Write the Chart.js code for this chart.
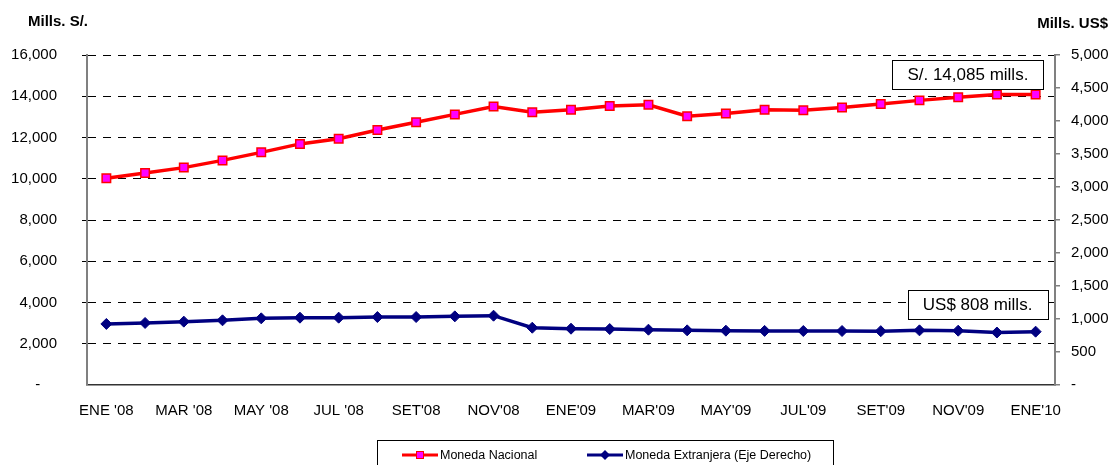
<!DOCTYPE html>
<html>
<head>
<meta charset="utf-8">
<script src="https://cdn.jsdelivr.net/npm/chart.js@4"></script>
<style>
  html, body { margin: 0; padding: 0; background: #fff; }
</style>
</head>
<body>
<canvas id="grafico" width="1113" height="465"></canvas>
<script>
// meses (ene 2008 - ene 2010)
const meses = [
  "ENE '08", "FEB '08", "MAR '08", "ABR '08", "MAY '08", "JUN '08", "JUL '08", "AGO '08",
  "SET'08", "OCT'08", "NOV'08", "DIC'08", "ENE'09", "FEB'09", "MAR'09", "ABR'09",
  "MAY'09", "JUN'09", "JUL'09", "AGO'09", "SET'09", "OCT'09", "NOV'09", "DIC'09", "ENE'10"
];

// millones de soles (eje izquierdo)
const monedaNacional = [
  10020, 10280, 10540, 10890, 11280, 11690, 11940, 12360,
  12740, 13120, 13500, 13220, 13350, 13530, 13590, 13030,
  13160, 13350, 13320, 13460, 13620, 13800, 13950, 14080, 14085
];

// millones de dolares (eje derecho)
const monedaExtranjera = [
  925, 940, 960, 980, 1010, 1020, 1020, 1030,
  1030, 1040, 1050, 868, 853, 848, 838, 828,
  823, 820, 818, 818, 816, 828, 823, 795, 808
];

const ticksIzq = [0, 2000, 4000, 6000, 8000, 10000, 12000, 14000, 16000];
const ticksDer = [0, 500, 1000, 1500, 2000, 2500, 3000, 3500, 4000, 4500, 5000];

const fuente = "'Liberation Sans', Arial, sans-serif";

function formato(v) {
  if (v === 0) return '-';
  return v.toLocaleString('en-US');
}

// textos extra: titulos de ejes, recuadros y leyenda
const extras = {
  id: 'extras',
  afterDraw(chart) {
    const ctx = chart.ctx;
    const x = chart.scales.x;
    ctx.save();

    ctx.fillStyle = '#000';
    ctx.font = 'bold 15px ' + fuente;
    ctx.textBaseline = 'middle';
    ctx.textAlign = 'left';
    ctx.fillText('Mills. S/.', 28, 22);
    ctx.textAlign = 'right';
    ctx.fillText('Mills. US$', 1108, 24);

    // recuadros con el ultimo dato
    const notas = [
      { texto: 'S/. ' + formato(monedaNacional[monedaNacional.length - 1]) + ' mills.', eje: 'y', i: 22.25, v: 15050 },
      { texto: 'US$ ' + formato(monedaExtranjera[monedaExtranjera.length - 1]) + ' mills.', eje: 'y1', i: 22.5, v: 1227 }
    ];
    ctx.font = '17px ' + fuente;
    ctx.textAlign = 'center';
    notas.forEach(n => {
      const cx = x.getPixelForValue(n.i);
      const cy = chart.scales[n.eje].getPixelForValue(n.v);
      const w = ctx.measureText(n.texto).width + 30;
      const h = 29;
      ctx.fillStyle = '#fff';
      ctx.fillRect(cx - w / 2, cy - h / 2, w, h);
      ctx.strokeStyle = '#000';
      ctx.lineWidth = 1;
      ctx.strokeRect(Math.round(cx - w / 2) + 0.5, Math.round(cy - h / 2) + 0.5, Math.round(w), h);
      ctx.fillStyle = '#000';
      ctx.fillText(n.texto, cx, cy + 1);
    });

    // leyenda
    ctx.strokeStyle = '#000';
    ctx.lineWidth = 1;
    ctx.strokeRect(377.5, 440.5, 456, 30);
    const items = [
      { ds: chart.data.datasets[0], x0: 402 },
      { ds: chart.data.datasets[1], x0: 587 }
    ];
    ctx.font = '12.5px ' + fuente;
    ctx.textAlign = 'left';
    items.forEach(it => {
      const ds = it.ds;
      const y = 455;
      ctx.strokeStyle = ds.borderColor;
      ctx.lineWidth = 3;
      ctx.beginPath();
      ctx.moveTo(it.x0, y);
      ctx.lineTo(it.x0 + 36, y);
      ctx.stroke();
      ctx.fillStyle = ds.pointBackgroundColor;
      ctx.strokeStyle = ds.pointBorderColor;
      ctx.lineWidth = 1;
      if (ds.pointStyle === 'rect') {
        ctx.fillRect(it.x0 + 14, y - 4, 8, 8);
        ctx.strokeRect(it.x0 + 14.5, y - 3.5, 7, 7);
      } else {
        ctx.beginPath();
        ctx.moveTo(it.x0 + 18, y - 5);
        ctx.lineTo(it.x0 + 23, y);
        ctx.lineTo(it.x0 + 18, y + 5);
        ctx.lineTo(it.x0 + 13, y);
        ctx.closePath();
        ctx.fill();
      }
      ctx.fillStyle = '#000';
      ctx.fillText(ds.label, it.x0 + 38, y + 1);
    });

    ctx.restore();
  }
};

const ctx = document.getElementById('grafico').getContext('2d');
const grafico = new Chart(ctx, {
  type: 'line',
  data: {
    labels: meses,
    datasets: [{
      label: 'Moneda Nacional',
      data: monedaNacional,
      yAxisID: 'y',
      borderColor: '#FF0000',
      borderWidth: 3.5,
      pointStyle: 'rect',
      pointRadius: 6,
      pointBackgroundColor: '#FF00FF',
      pointBorderColor: '#FF0000',
      pointBorderWidth: 1.5,
      tension: 0
    }, {
      label: 'Moneda Extranjera (Eje Derecho)',
      data: monedaExtranjera,
      yAxisID: 'y1',
      borderColor: '#000080',
      borderWidth: 3.5,
      pointStyle: 'rectRot',
      pointRadius: 5.5,
      pointBackgroundColor: '#000080',
      pointBorderColor: '#000080',
      pointBorderWidth: 1,
      tension: 0
    }]
  },
  options: {
    responsive: false,
    animation: false,
    devicePixelRatio: 1,
    layout: { padding: { left: 0, right: 0, top: 55, bottom: 45 } },
    plugins: {
      legend: { display: false },
      tooltip: { enabled: false }
    },
    scales: {
      x: {
        offset: true,
        grid: { display: false, drawTicks: false },
        border: { display: true, color: '#333', width: 1.5 },
        ticks: {
          autoSkip: false,
          maxRotation: 0,
          padding: 17,
          color: '#000',
          font: { family: fuente, size: 15 },
          callback: function(v, i) { return i % 2 === 0 ? meses[i] : ''; }
        },
        afterFit: s => { s.height = 35; }
      },
      y: {
        position: 'left',
        min: 0,
        max: 16000,
        afterBuildTicks: s => { s.ticks = ticksIzq.map(v => ({ value: v })); },
        grid: {
          color: '#000',
          lineWidth: c => c.tick.value === 0 ? 0 : 1,
          drawTicks: true,
          tickLength: 5,
          tickColor: '#000',
          tickBorderDash: [5, 0]
        },
        border: { display: true, color: '#808080', width: 2, dash: [8, 7] },
        ticks: {
          padding: 25,
          color: '#000',
          font: { family: fuente, size: 15 },
          callback: v => v === 0 ? '-    ' : formato(v)
        },
        afterFit: s => { s.width = 87; }
      },
      y1: {
        position: 'right',
        min: 0,
        max: 5000,
        afterBuildTicks: s => { s.ticks = ticksDer.map(v => ({ value: v })); },
        grid: {
          drawOnChartArea: false,
          drawTicks: true,
          tickLength: 5,
          color: '#808080',
          lineWidth: 1.5
        },
        border: { display: true, color: '#808080', width: 2 },
        ticks: {
          padding: 11,
          color: '#000',
          font: { family: fuente, size: 15 },
          callback: v => formato(v)
        },
        afterFit: s => { s.width = 58; }
      }
    }
  },
  plugins: [extras]
});
</script>
</body>
</html>
